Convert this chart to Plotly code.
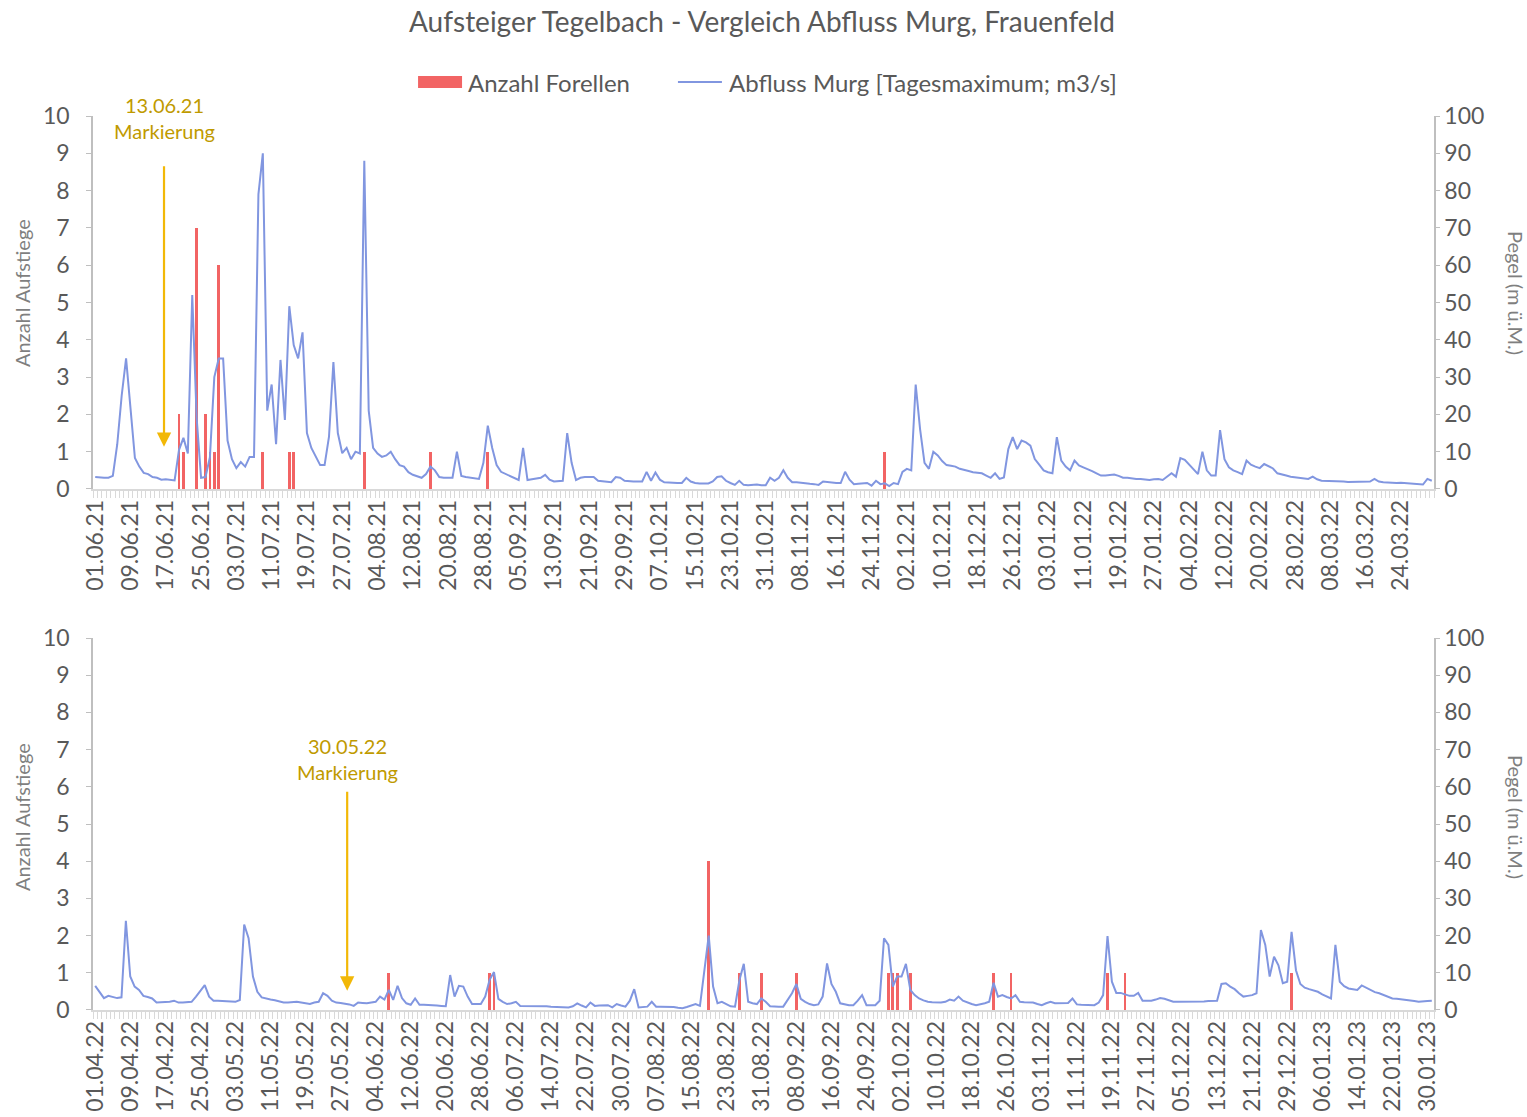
import pandas as pd
import plotly.graph_objects as go

# ---------------------------------------------------------------------------
# Data
# ---------------------------------------------------------------------------
# daily maximum discharge of the Murg at Frauenfeld [m3/s]
start_2021 = "2021-06-01"
abfluss_2021 = [
    3.2, 3.0, 3.0, 3.0, 3.5, 12, 25, 35, 22, 8.3,
    6.0, 4.3, 4.0, 3.2, 3.0, 2.5, 2.6, 2.4, 2.3, 10.5,
    13.7, 9.5, 52, 19, 3.0, 3.2, 8.5, 30, 35, 35,
    13, 8.0, 5.6, 7.2, 6.0, 8.6, 8.6, 79, 90, 21,
    28, 12, 34.6, 18.5, 49, 38.6, 35, 42, 15, 11,
    8.5, 6.4, 6.4, 14, 34, 15, 9.6, 11, 8.0, 10,
    9.5, 88, 21, 11, 9.5, 8.6, 9.0, 10, 8.0, 6.4,
    6.0, 4.5, 3.8, 3.5, 3.0, 4.0, 6.0, 5.0, 3.2, 3.0,
    3.0, 3.0, 10, 3.5, 3.2, 3.0, 2.8, 2.7, 7.0, 17,
    11, 6.4, 4.6, 4.0, 3.5, 3.0, 2.4, 11, 2.4, 2.6,
    2.8, 3.0, 3.8, 2.5, 2.0, 2.0, 2.2, 15, 7.0, 2.4,
    3.0, 3.2, 3.2, 3.2, 2.2, 2.0, 2.0, 1.8, 3.2, 3.0,
    2.2, 2.0, 2.0, 2.0, 2.0, 4.6, 2.2, 4.4, 2.5, 1.8,
    1.7, 1.6, 1.6, 1.6, 3.0, 2.0, 1.6, 1.5, 1.5, 1.5,
    2.0, 3.2, 3.4, 2.2, 1.6, 1.1, 2.2, 1.1, 1.0, 1.1,
    1.2, 1.0, 1.0, 3.0, 2.2, 3.0, 5.0, 3.0, 1.8, 1.8,
    1.6, 1.5, 1.4, 1.3, 1.1, 2.0, 1.8, 1.6, 1.6, 1.6,
    4.6, 2.5, 1.3, 1.4, 1.5, 1.6, 0.9, 2.2, 1.3, 1.5,
    0.8, 1.6, 1.3, 4.6, 5.4, 5.0, 28, 16, 7.0, 5.4,
    10, 9.0, 7.5, 6.4, 6.2, 6.0, 5.4, 5.0, 4.8, 4.5,
    4.4, 4.2, 3.6, 3.0, 4.2, 2.7, 3.1, 10.7, 13.9, 10.7,
    13, 12.5, 11.6, 8.0, 6.5, 5.0, 4.5, 4.2, 13.9, 7.6,
    6.0, 5.0, 7.6, 6.3, 5.8, 5.4, 4.8, 4.2, 3.6, 3.6,
    3.8, 3.9, 3.5, 3.0, 3.0, 2.8, 2.7, 2.7, 2.5, 2.4,
    2.6, 2.7, 2.4, 3.2, 4.2, 3.3, 8.3, 7.8, 6.5, 5.4,
    4.0, 10, 5.0, 3.6, 3.6, 15.8, 8.0, 5.8, 5.0, 4.5,
    4.0, 7.6, 6.5, 6.0, 5.6, 6.7, 6.2, 5.5, 4.2, 4.0,
    3.6, 3.3, 3.1, 3.0, 2.8, 2.7, 3.3, 2.6, 2.2, 2.2,
    2.1, 2.0, 2.0, 2.0, 1.9, 1.9, 1.8, 1.8, 1.9, 2.0,
    2.7, 2.0, 1.8, 1.7, 1.5, 1.6, 1.7, 1.6, 1.3, 1.2,
    1.2, 1.2, 2.7, 2.2,
]

start_2022 = "2022-04-01"
abfluss_2022 = [
    6.5, 5.0, 3.2, 3.8, 3.6, 3.2, 3.4, 24, 9.0, 6.3,
    5.4, 3.8, 3.5, 3.1, 2.0, 2.0, 2.0, 2.2, 2.5, 2.0,
    2.0, 2.0, 2.2, 3.6, 5.2, 6.7, 3.6, 2.5, 2.5, 2.5,
    2.4, 2.3, 2.2, 2.7, 23, 19.3, 9.0, 4.9, 3.4, 3.0,
    2.8, 2.6, 2.3, 2.0, 2.0, 2.1, 2.2, 2.0, 1.8, 1.6,
    2.0, 2.2, 4.5, 3.8, 2.5, 2.0, 1.9, 1.8, 1.5, 1.1,
    2.0, 1.9, 1.8, 2.0, 2.2, 3.6, 2.8, 5.4, 2.7, 6.5,
    3.2, 1.8, 1.4, 3.1, 1.4, 1.4, 1.4, 1.4, 1.2, 1.1,
    1.0, 9.4, 3.6, 6.5, 6.3, 3.6, 1.6, 1.6, 1.6, 3.6,
    8.1, 10.2, 3.0, 2.2, 1.6, 1.8, 2.2, 1.1, 1.1, 1.1,
    1.1, 1.2, 1.2, 1.0, 0.9, 0.9, 0.9, 0.8, 0.7, 1.0,
    1.8, 1.2, 0.7, 2.0, 1.1, 1.2, 1.3, 1.3, 0.7, 1.6,
    1.2, 0.9, 2.5, 5.6, 0.7, 0.8, 0.9, 2.2, 0.9, 0.9,
    0.9, 0.9, 0.8, 0.6, 0.5, 0.8, 1.2, 1.6, 1.1, 10,
    20, 6.3, 1.8, 2.2, 1.6, 1.0, 0.9, 8.0, 12.4, 2.2,
    1.8, 1.6, 3.1, 2.2, 1.0, 0.9, 0.9, 0.9, 2.7, 4.5,
    7.0, 3.0, 2.2, 1.6, 1.3, 1.5, 3.6, 12.5, 7.0, 4.9,
    1.8, 1.5, 1.3, 1.3, 2.5, 4.0, 1.3, 1.3, 1.3, 2.5,
    19.3, 17.5, 6.3, 9.0, 9.0, 12.4, 5.4, 4.0, 3.1, 2.6,
    2.2, 2.1, 2.0, 2.0, 2.2, 2.8, 2.5, 3.6, 2.5, 2.0,
    1.6, 1.3, 1.5, 1.8, 2.2, 7.3, 3.6, 4.0, 3.5, 3.1,
    4.0, 2.2, 2.1, 2.0, 2.0, 1.6, 1.3, 1.8, 2.2, 1.8,
    1.8, 2.0, 1.9, 3.1, 1.5, 1.4, 1.3, 1.3, 1.3, 2.0,
    4.0, 19.9, 7.6, 4.6, 4.6, 4.2, 3.8, 3.8, 4.6, 2.5,
    2.5, 2.5, 2.8, 3.2, 3.0, 2.6, 2.2, 2.2, 2.2, 2.2,
    2.1, 2.2, 2.2, 2.3, 2.4, 2.5, 2.5, 7.0, 7.2, 6.3,
    5.6, 4.5, 3.6, 3.8, 4.0, 4.5, 21.5, 17.5, 9.0, 14.3,
    12, 7.2, 7.6, 21, 10.7, 7.0, 6.0, 5.6, 5.2, 4.9,
    4.2, 3.6, 3.1, 17.5, 7.6, 6.4, 5.8, 5.6, 5.4, 6.6,
    6.0, 5.4, 4.8, 4.5, 4.0, 3.4, 3.1, 3.0, 2.9, 2.8,
    2.6, 2.4, 2.2, 2.2, 2.4, 2.5,
]

# trout counted in the fish pass (days with ascents only)
forellen_2021_tage = [
    "2021-06-20", "2021-06-21", "2021-06-24", "2021-06-26", "2021-06-27",
    "2021-06-28", "2021-06-29", "2021-07-09", "2021-07-15", "2021-07-16",
    "2021-08-01", "2021-08-16", "2021-08-29", "2021-11-27",
]
forellen_2021_anzahl = [2, 1, 7, 2, 1, 1, 6, 1, 1, 1, 1, 1, 1, 1]

forellen_2022_tage = [
    "2022-06-07", "2022-06-30", "2022-07-01", "2022-08-19", "2022-08-26",
    "2022-08-31", "2022-09-08", "2022-09-29", "2022-09-30", "2022-10-01",
    "2022-10-04", "2022-10-23", "2022-10-27", "2022-11-18", "2022-11-22",
    "2022-12-30",
]
forellen_2022_anzahl = [1, 1, 1, 4, 1, 1, 1, 1, 1, 1, 1, 1, 1, 1, 1, 1]

# tagging dates
markierungen = ["13.06.21", "30.05.22"]

# ---------------------------------------------------------------------------
# Styling
# ---------------------------------------------------------------------------
FONT = "Lato, 'Open Sans', sans-serif"
GREY_TEXT = "#595959"
AXIS_GREY = "#bfbfbf"
BAR_RED = "#f26464"
LINE_BLUE = "#8196e0"
GOLD_TEXT = "#bf9a00"
GOLD_ARROW = "#f2b807"
DAY = 86400000

days_2021 = pd.date_range(start_2021, periods=len(abfluss_2021), freq="D")
days_2022 = pd.date_range(start_2022, periods=len(abfluss_2022), freq="D")

half = pd.Timedelta(hours=12)

fig = go.Figure()

fig.add_trace(go.Bar(x=pd.to_datetime(forellen_2021_tage), y=forellen_2021_anzahl,
                     width=0.62 * DAY, marker=dict(color=BAR_RED, line_width=0),
                     name="Anzahl Forellen", xaxis="x", yaxis="y", showlegend=False))
fig.add_trace(go.Scatter(x=days_2021, y=abfluss_2021, mode="lines",
                         line=dict(color=LINE_BLUE, width=2),
                         name="Abfluss Murg [Tagesmaximum; m3/s]",
                         xaxis="x", yaxis="y2", showlegend=False))
fig.add_trace(go.Bar(x=pd.to_datetime(forellen_2022_tage), y=forellen_2022_anzahl,
                     width=0.62 * DAY, marker=dict(color=BAR_RED, line_width=0),
                     name="Anzahl Forellen", xaxis="x2", yaxis="y3", showlegend=False))
fig.add_trace(go.Scatter(x=days_2022, y=abfluss_2022, mode="lines",
                         line=dict(color=LINE_BLUE, width=2),
                         name="Abfluss Murg [Tagesmaximum; m3/s]",
                         xaxis="x2", yaxis="y4", showlegend=False))


def x_axis(days, anchor):
    return dict(
        anchor=anchor, domain=[0, 1], type="date",
        range=[days[0] - half, days[-1] + half],
        tick0=days[0], dtick=8 * DAY, tickformat="%d.%m.%y",
        tickangle=-90, ticks="", showgrid=False, zeroline=False,
        showline=True, linecolor="#d9d9d9", linewidth=1.5,
        tickfont=dict(family=FONT, size=23, color=GREY_TEXT),
        minor=dict(ticks="outside", ticklen=7, tickcolor="#d9d9d9",
                   tickwidth=1, tick0=days[0] - half, dtick=DAY, showgrid=False),
        automargin=False,
    )


def y_left(domain, anchor):
    return dict(
        anchor=anchor, domain=domain, range=[0, 10], dtick=1,
        showgrid=False, zeroline=False, showline=True, linecolor=AXIS_GREY,
        linewidth=1.5, ticks="outside", ticklen=5, tickcolor=AXIS_GREY,
        ticklabelstandoff=12,
        tickfont=dict(family=FONT, size=23, color=GREY_TEXT), automargin=False,
    )


def y_right(overlay, anchor):
    return dict(
        anchor=anchor, overlaying=overlay, side="right", range=[0, 100], dtick=10,
        showgrid=False, zeroline=False, showline=True, linecolor=AXIS_GREY,
        linewidth=1.5, ticks="outside", ticklen=4, tickcolor=AXIS_GREY,
        ticklabelstandoff=0,
        tickfont=dict(family=FONT, size=23, color=GREY_TEXT), automargin=False,
    )


TOP_DOMAIN = [0.5828, 1.0]
BOT_DOMAIN = [0.0, 0.4161]

fig.update_layout(
    width=1527, height=1117,
    margin=dict(l=93, r=93, t=116, b=107),
    paper_bgcolor="white", plot_bgcolor="white",
    font=dict(family=FONT, color=GREY_TEXT),
    bargap=0,
    title=dict(text="Aufsteiger Tegelbach - Vergleich Abfluss Murg, Frauenfeld",
               x=0.499, xanchor="center", y=0.980, yanchor="middle",
               font=dict(family=FONT, size=28, color=GREY_TEXT)),
    xaxis=x_axis(days_2021, "y"),
    yaxis=y_left(TOP_DOMAIN, "x"),
    yaxis2=y_right("y", "x"),
    xaxis2=x_axis(days_2022, "y3"),
    yaxis3=y_left(BOT_DOMAIN, "x2"),
    yaxis4=y_right("y3", "x2"),
    showlegend=False,
)

annotations = []
shapes = []

# axis titles, centred on each panel
for yc in (0.802, 0.2159):
    annotations.append(dict(text="Anzahl Aufstiege", xref="paper", yref="paper",
                            x=-0.0529, y=yc, xanchor="center", yanchor="middle",
                            textangle=-90, showarrow=False,
                            font=dict(family=FONT, size=20, color="#7f7f7f")))
    annotations.append(dict(text="Pegel (m ü.M.)", xref="paper", yref="paper",
                            x=1.0611, y=yc, xanchor="center", yanchor="middle",
                            textangle=90, showarrow=False,
                            font=dict(family=FONT, size=20, color="#7f7f7f")))

# legend drawn above the upper panel
shapes.append(dict(type="rect", xref="paper", yref="paper",
                   x0=0.2424, x1=0.2752, y0=1.0313, y1=1.0447,
                   fillcolor=BAR_RED, line_width=0))
shapes.append(dict(type="line", xref="paper", yref="paper",
                   x0=0.4362, x1=0.4690, y0=1.0380, y1=1.0380,
                   line=dict(color=LINE_BLUE, width=2)))
annotations.append(dict(text="Anzahl Forellen", xref="paper", yref="paper",
                        x=0.2782, y=1.0380, xanchor="left", yanchor="middle",
                        showarrow=False, font=dict(family=FONT, size=24, color=GREY_TEXT)))
annotations.append(dict(text="Abfluss Murg [Tagesmaximum; m3/s]", xref="paper", yref="paper",
                        x=0.4728, y=1.0380, xanchor="left", yanchor="middle",
                        showarrow=False, font=dict(family=FONT, size=24, color=GREY_TEXT)))

# tagging markers with arrows
mark_specs = [
    # (x-axis, y-axis, arrow x position, arrow tail, arrow tip, label y in paper)
    ("x", "y", pd.Timestamp(start_2021) + pd.Timedelta(days=15.6), 8.69, 1.13, 0.9975),
    ("x2", "y3", pd.Timestamp(start_2022) + pd.Timedelta(days=57.5), 5.91, 0.52, 0.2805),
]
for label, (xr, yr, xpos, tail, tip, ylab) in zip(markierungen, mark_specs):
    annotations.append(dict(x=xpos, y=tip, xref=xr, yref=yr,
                            ax=xpos, ay=tail, axref=xr, ayref=yr,
                            showarrow=True, arrowhead=2, arrowsize=1.3,
                            arrowwidth=2.2, arrowcolor=GOLD_ARROW, text=""))
    annotations.append(dict(x=xpos, y=ylab, xref=xr, yref="paper",
                            text=f"{label}<br>Markierung", showarrow=False,
                            xanchor="center", yanchor="middle", align="center",
                            font=dict(family=FONT, size=20, color=GOLD_TEXT)))

fig.update_layout(annotations=annotations, shapes=shapes)

fig.write_html("out.html")
